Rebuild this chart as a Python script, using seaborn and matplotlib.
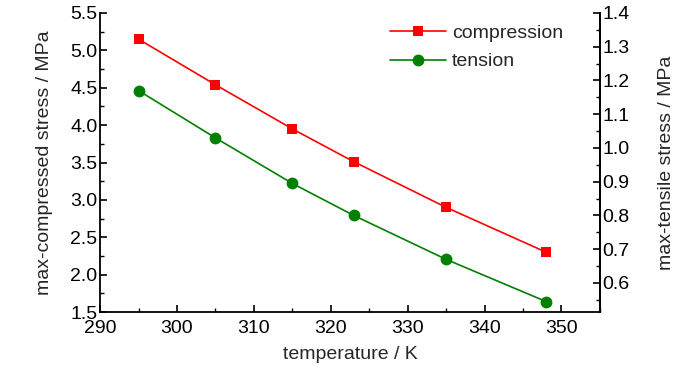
import numpy as np
import pandas as pd
import matplotlib
matplotlib.use('Agg')
import matplotlib.pyplot as plt
import seaborn as sns
from matplotlib.ticker import MultipleLocator

# data
temperature = [295, 305, 315, 323, 335, 348]
compression = [5.15, 4.54, 3.95, 3.51, 2.90, 2.30]   # left axis, MPa
tension = [1.17, 1.03, 0.895, 0.80, 0.67, 0.545]      # right axis, MPa

sns.set_style('ticks')
plt.rcParams['font.family'] = ['Liberation Sans', 'DejaVu Sans']
plt.rcParams['font.size'] = 14

fig = plt.figure(figsize=(7, 3.66), dpi=100)
ax = fig.add_axes([0.143, 0.1475, 0.714, 0.817])
ax2 = ax.twinx()

df = pd.DataFrame({'T': temperature, 'comp': compression, 'tens': tension})

sns.lineplot(data=df, x='T', y='comp', ax=ax, color='#ff0000', marker='s',
             markersize=7.5, markeredgewidth=0, linewidth=1.2, label='compression', legend=False)
sns.lineplot(data=df, x='T', y='tens', ax=ax2, color='#008000', marker='o',
             markersize=8.5, markeredgewidth=0, linewidth=1.2, label='tension', legend=False)

ax.set_xlim(290, 355)
ax.set_ylim(1.5, 5.5)
ax2.set_ylim(0.514, 1.4)

ax.xaxis.set_major_locator(MultipleLocator(10))
ax.xaxis.set_minor_locator(MultipleLocator(5))
ax.yaxis.set_major_locator(MultipleLocator(0.5))
ax.yaxis.set_minor_locator(MultipleLocator(0.25))
ax2.yaxis.set_major_locator(MultipleLocator(0.1))
ax2.yaxis.set_minor_locator(MultipleLocator(0.05))
ax.yaxis.set_major_formatter(matplotlib.ticker.FormatStrFormatter('%.1f'))
ax2.yaxis.set_major_formatter(matplotlib.ticker.FormatStrFormatter('%.1f'))

for a in (ax, ax2):
    a.spines['top'].set_visible(False)
    for s in a.spines.values():
        s.set_linewidth(1.3)
        s.set_color('black')
    a.tick_params(which='major', direction='in', length=5, width=1.2, pad=2, colors='black', labelsize=14)
    a.tick_params(which='minor', direction='in', length=3, width=1.0, colors='black')
ax.tick_params(axis='x', which='major', pad=6)
ax2.spines['left'].set_visible(False)
ax2.spines['bottom'].set_visible(False)

ax.set_xlabel('temperature / K', fontsize=14, labelpad=6)
ax.set_ylabel('max-compressed stress / MPa', fontsize=14, labelpad=12)
ax2.set_ylabel('max-tensile stress / MPa', fontsize=14, labelpad=20)

h1, l1 = ax.get_legend_handles_labels()
h2, l2 = ax2.get_legend_handles_labels()
ax2.legend(h1 + h2, l1 + l2, loc='upper left', bbox_to_anchor=(0.545, 1.02),
           frameon=False, handlelength=2.9, handletextpad=0.3, labelspacing=0.55,
           fontsize=14)

fig.savefig('out.png', dpi=100)
